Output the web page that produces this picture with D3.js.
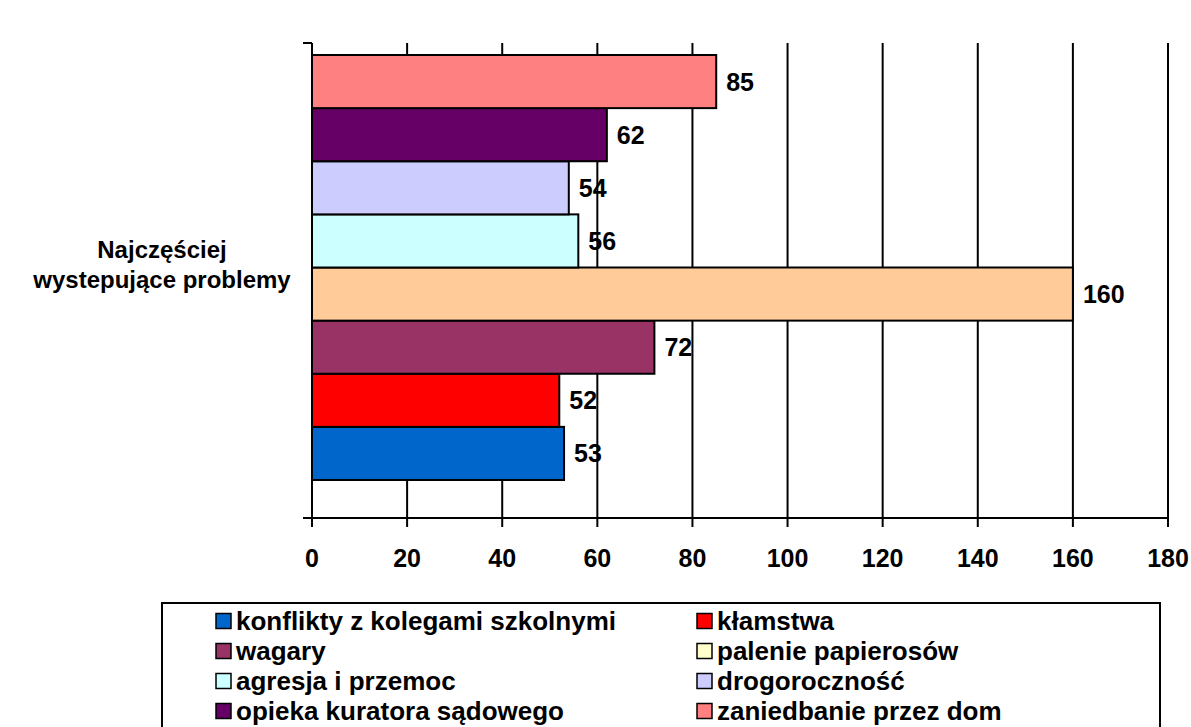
<!DOCTYPE html>
<html><head><meta charset="utf-8">
<script src="https://cdn.jsdelivr.net/npm/d3@7"></script>
<style>body{margin:0;background:#fff}svg{display:block}text{font-family:"Liberation Sans",Arial,sans-serif;font-weight:bold}</style>
</head><body>
<svg id="c" width="1191" height="727"></svg>
<script>
const category = ["Najczęściej", "wystepujące problemy"];
const series = ["konflikty z kolegami szkolnymi","kłamstwa","wagary","palenie papierosów","agresja i przemoc","drogoroczność","opieka kuratora sądowego","zaniedbanie przez dom"];
const values = [53,52,72,160,56,54,62,85];
const barColors = ["#0066CC","#FF0000","#993366","#FFCC99","#CCFFFF","#CCCCFF","#660066","#FF8080"];
const legendColors = ["#0066CC","#FF0000","#993366","#FFFFCC","#CCFFFF","#CCCCFF","#660066","#FF8080"];
const ticks = [0,20,40,60,80,100,120,140,160,180];

const svg = d3.select("#c");
const L=312,R=1168,T=43,B=518;
const x = d3.scaleLinear().domain([0,180]).range([L,R]);
const y = d3.scaleBand().domain(series).range([480,55]).paddingInner(0).paddingOuter(0);

// gridlines
svg.append("g").selectAll("line").data(ticks.slice(1)).join("line")
  .attr("x1",d=>x(d)).attr("x2",d=>x(d)).attr("y1",T).attr("y2",B+9)
  .attr("stroke","#000").attr("stroke-width",2);

// bars
svg.append("g").selectAll("rect").data(series).join("rect")
  .attr("x",x(0)).attr("y",d=>y(d)).attr("width",(d,i)=>x(values[i])-x(0)).attr("height",y.bandwidth())
  .attr("fill",(d,i)=>barColors[i]).attr("stroke","#000").attr("stroke-width",2);

// value labels
svg.append("g").selectAll("text").data(series).join("text")
  .attr("x",(d,i)=>x(values[i])+10).attr("y",d=>y(d)+y.bandwidth()/2).attr("dy","0.36em")
  .attr("font-size",25).text((d,i)=>values[i]);

// axes
svg.append("line").attr("x1",L).attr("x2",L).attr("y1",T).attr("y2",B+9).attr("stroke","#000").attr("stroke-width",2);
svg.append("line").attr("x1",L-9).attr("x2",L).attr("y1",T).attr("y2",T).attr("stroke","#000").attr("stroke-width",2);
svg.append("line").attr("x1",L-9).attr("x2",R).attr("y1",B).attr("y2",B).attr("stroke","#000").attr("stroke-width",2);
svg.append("g").selectAll("text").data(ticks).join("text")
  .attr("x",d=>x(d)).attr("y",567).attr("text-anchor","middle").attr("font-size",25).text(d=>d);

// category label
svg.append("g").selectAll("text").data(category).join("text")
  .attr("x",162).attr("y",(d,i)=>258+i*30).attr("text-anchor","middle").attr("font-size",24).text(d=>d);

// legend
svg.append("rect").attr("x",162).attr("y",603).attr("width",998).attr("height",150)
  .attr("fill","#fff").attr("stroke","#000").attr("stroke-width",2);
const lg = svg.append("g").selectAll("g").data(series).join("g")
  .attr("transform",(d,i)=>`translate(${i%2===0?216:697},${621+Math.floor(i/2)*30})`);
lg.append("rect").attr("x",0).attr("y",-7.5).attr("width",15).attr("height",15)
  .attr("fill",(d,i)=>legendColors[i]).attr("stroke","#000").attr("stroke-width",1.5);
lg.append("text").attr("x",20).attr("dy","0.36em").attr("font-size",26).text(d=>d);
</script>
</body></html>
